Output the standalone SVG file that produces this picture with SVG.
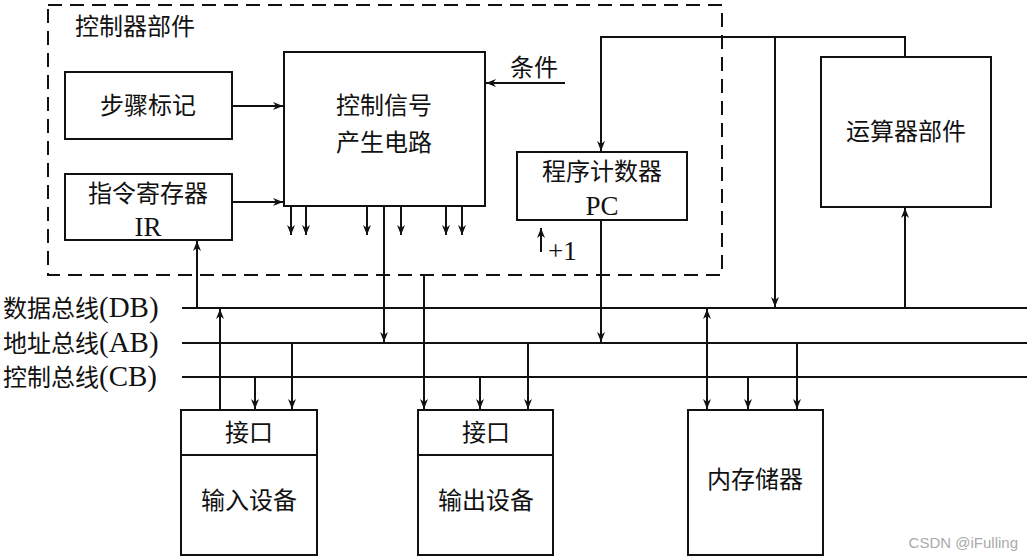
<svg xmlns="http://www.w3.org/2000/svg" width="1031" height="558" viewBox="0 0 1031 558">
<style>
text{font-family:"Liberation Serif","Noto Sans CJK SC",serif;font-size:24px;fill:#111}
.c{text-anchor:middle}
.lt{font-size:29px}
.b{fill:#fff;stroke:#111;stroke-width:2}
.l{stroke:#111;stroke-width:2;fill:none}
.a{stroke:#111;stroke-width:2;fill:none;marker-end:url(#ah)}
.d{stroke:#111;stroke-width:2;fill:none;marker-end:url(#ah);marker-start:url(#as)}
</style>
<defs>
<marker id="ah" viewBox="0 0 10 12" refX="10" refY="6" markerWidth="10" markerHeight="12" markerUnits="userSpaceOnUse" orient="auto"><path d="M0,2 L10,6 L0,10 L3,6 Z" fill="#111"/></marker>
<marker id="as" viewBox="0 0 10 12" refX="0" refY="6" markerWidth="10" markerHeight="12" markerUnits="userSpaceOnUse" orient="auto"><path d="M10,2 L0,6 L10,10 L7,6 Z" fill="#111"/></marker>
</defs>
<rect width="1031" height="558" fill="#fff"/>
<rect x="48" y="5" width="674" height="270" fill="none" stroke="#111" stroke-width="2" stroke-dasharray="14,8"/>
<text x="75" y="35">控制器部件</text>
<g id="connectors">
<line class="a" x1="232" y1="106" x2="283" y2="106"/>
<line class="a" x1="232" y1="202" x2="283" y2="202"/>
<line class="a" x1="565" y1="83" x2="486" y2="83"/>
<line class="a" x1="291" y1="206" x2="291" y2="235"/>
<line class="a" x1="306" y1="206" x2="306" y2="235"/>
<line class="a" x1="367" y1="206" x2="367" y2="235"/>
<line class="a" x1="401" y1="206" x2="401" y2="235"/>
<line class="a" x1="446" y1="206" x2="446" y2="235"/>
<line class="a" x1="462" y1="206" x2="462" y2="235"/>
<line class="a" x1="384" y1="206" x2="384" y2="342"/>
<line class="a" x1="424" y1="275" x2="424" y2="409"/>
<line class="a" x1="197" y1="308" x2="197" y2="241"/>
<line class="a" x1="541" y1="252" x2="541" y2="228"/>
<line class="a" x1="601" y1="220" x2="601" y2="342"/>
<polyline class="a" points="905,57 905,37 601,37 601,151"/>
<line class="a" x1="775" y1="37" x2="775" y2="307"/>
<line class="a" x1="905" y1="308" x2="905" y2="208"/>
<line class="l" x1="182" y1="308" x2="1027" y2="308"/>
<line class="l" x1="182" y1="343" x2="1027" y2="343"/>
<line class="l" x1="182" y1="377" x2="1027" y2="377"/>
<line class="a" x1="220" y1="410" x2="220" y2="309"/>
<line class="a" x1="255" y1="377" x2="255" y2="409"/>
<line class="a" x1="292" y1="343" x2="292" y2="409"/>
<line class="a" x1="480" y1="377" x2="480" y2="409"/>
<line class="a" x1="528" y1="343" x2="528" y2="409"/>
<line class="d" x1="707" y1="309" x2="707" y2="409"/>
<line class="a" x1="748" y1="377" x2="748" y2="409"/>
<line class="a" x1="797" y1="343" x2="797" y2="409"/>
</g>
<g id="step"><rect class="b" x="65" y="72" width="167" height="67"/><text class="c" x="148" y="114">步骤标记</text></g>
<g id="ir"><rect class="b" x="65" y="174" width="167" height="66"/><text class="c" x="148" y="202">指令寄存器</text><text class="c lt" x="148" y="236" style="font-size:27px">IR</text></g>
<g id="ctrl"><rect class="b" x="284" y="52" width="201" height="154"/><text class="c" x="384" y="114">控制信号</text><text class="c" x="384" y="151">产生电路</text></g>
<g id="cond"><text x="510" y="76">条件</text></g>
<g id="pc"><rect class="b" x="517" y="152" width="170" height="68"/><text class="c" x="602" y="180">程序计数器</text><text class="c" x="602" y="215" style="font-size:27px">PC</text></g>
<g id="plus1"><text x="548" y="260" style="font-size:27px">+1</text></g>
<g id="alu"><rect class="b" x="821" y="57" width="170" height="150"/><text class="c" x="906" y="140">运算器部件</text></g>
<g id="buslabels">
<text x="3" y="317">数据总线<tspan class="lt">(DB)</tspan></text>
<text x="3" y="352">地址总线<tspan class="lt">(AB)</tspan></text>
<text x="3" y="386">控制总线<tspan class="lt">(CB)</tspan></text>
</g>
<g id="in"><rect class="b" x="181" y="410" width="136" height="145"/><line class="l" x1="181" y1="455" x2="317" y2="455"/><text class="c" x="249" y="441">接口</text><text class="c" x="249" y="509">输入设备</text></g>
<g id="out"><rect class="b" x="418" y="410" width="135" height="145"/><line class="l" x1="418" y1="455" x2="553" y2="455"/><text class="c" x="486" y="441">接口</text><text class="c" x="486" y="509">输出设备</text></g>
<g id="mem"><rect class="b" x="688" y="410" width="135" height="145"/><text class="c" x="755" y="488">内存储器</text></g>
<text x="1018" y="548" style="font-family:'Liberation Sans',sans-serif;font-size:15px;fill:#aaa;text-anchor:end">CSDN @iFulling</text>
</svg>
